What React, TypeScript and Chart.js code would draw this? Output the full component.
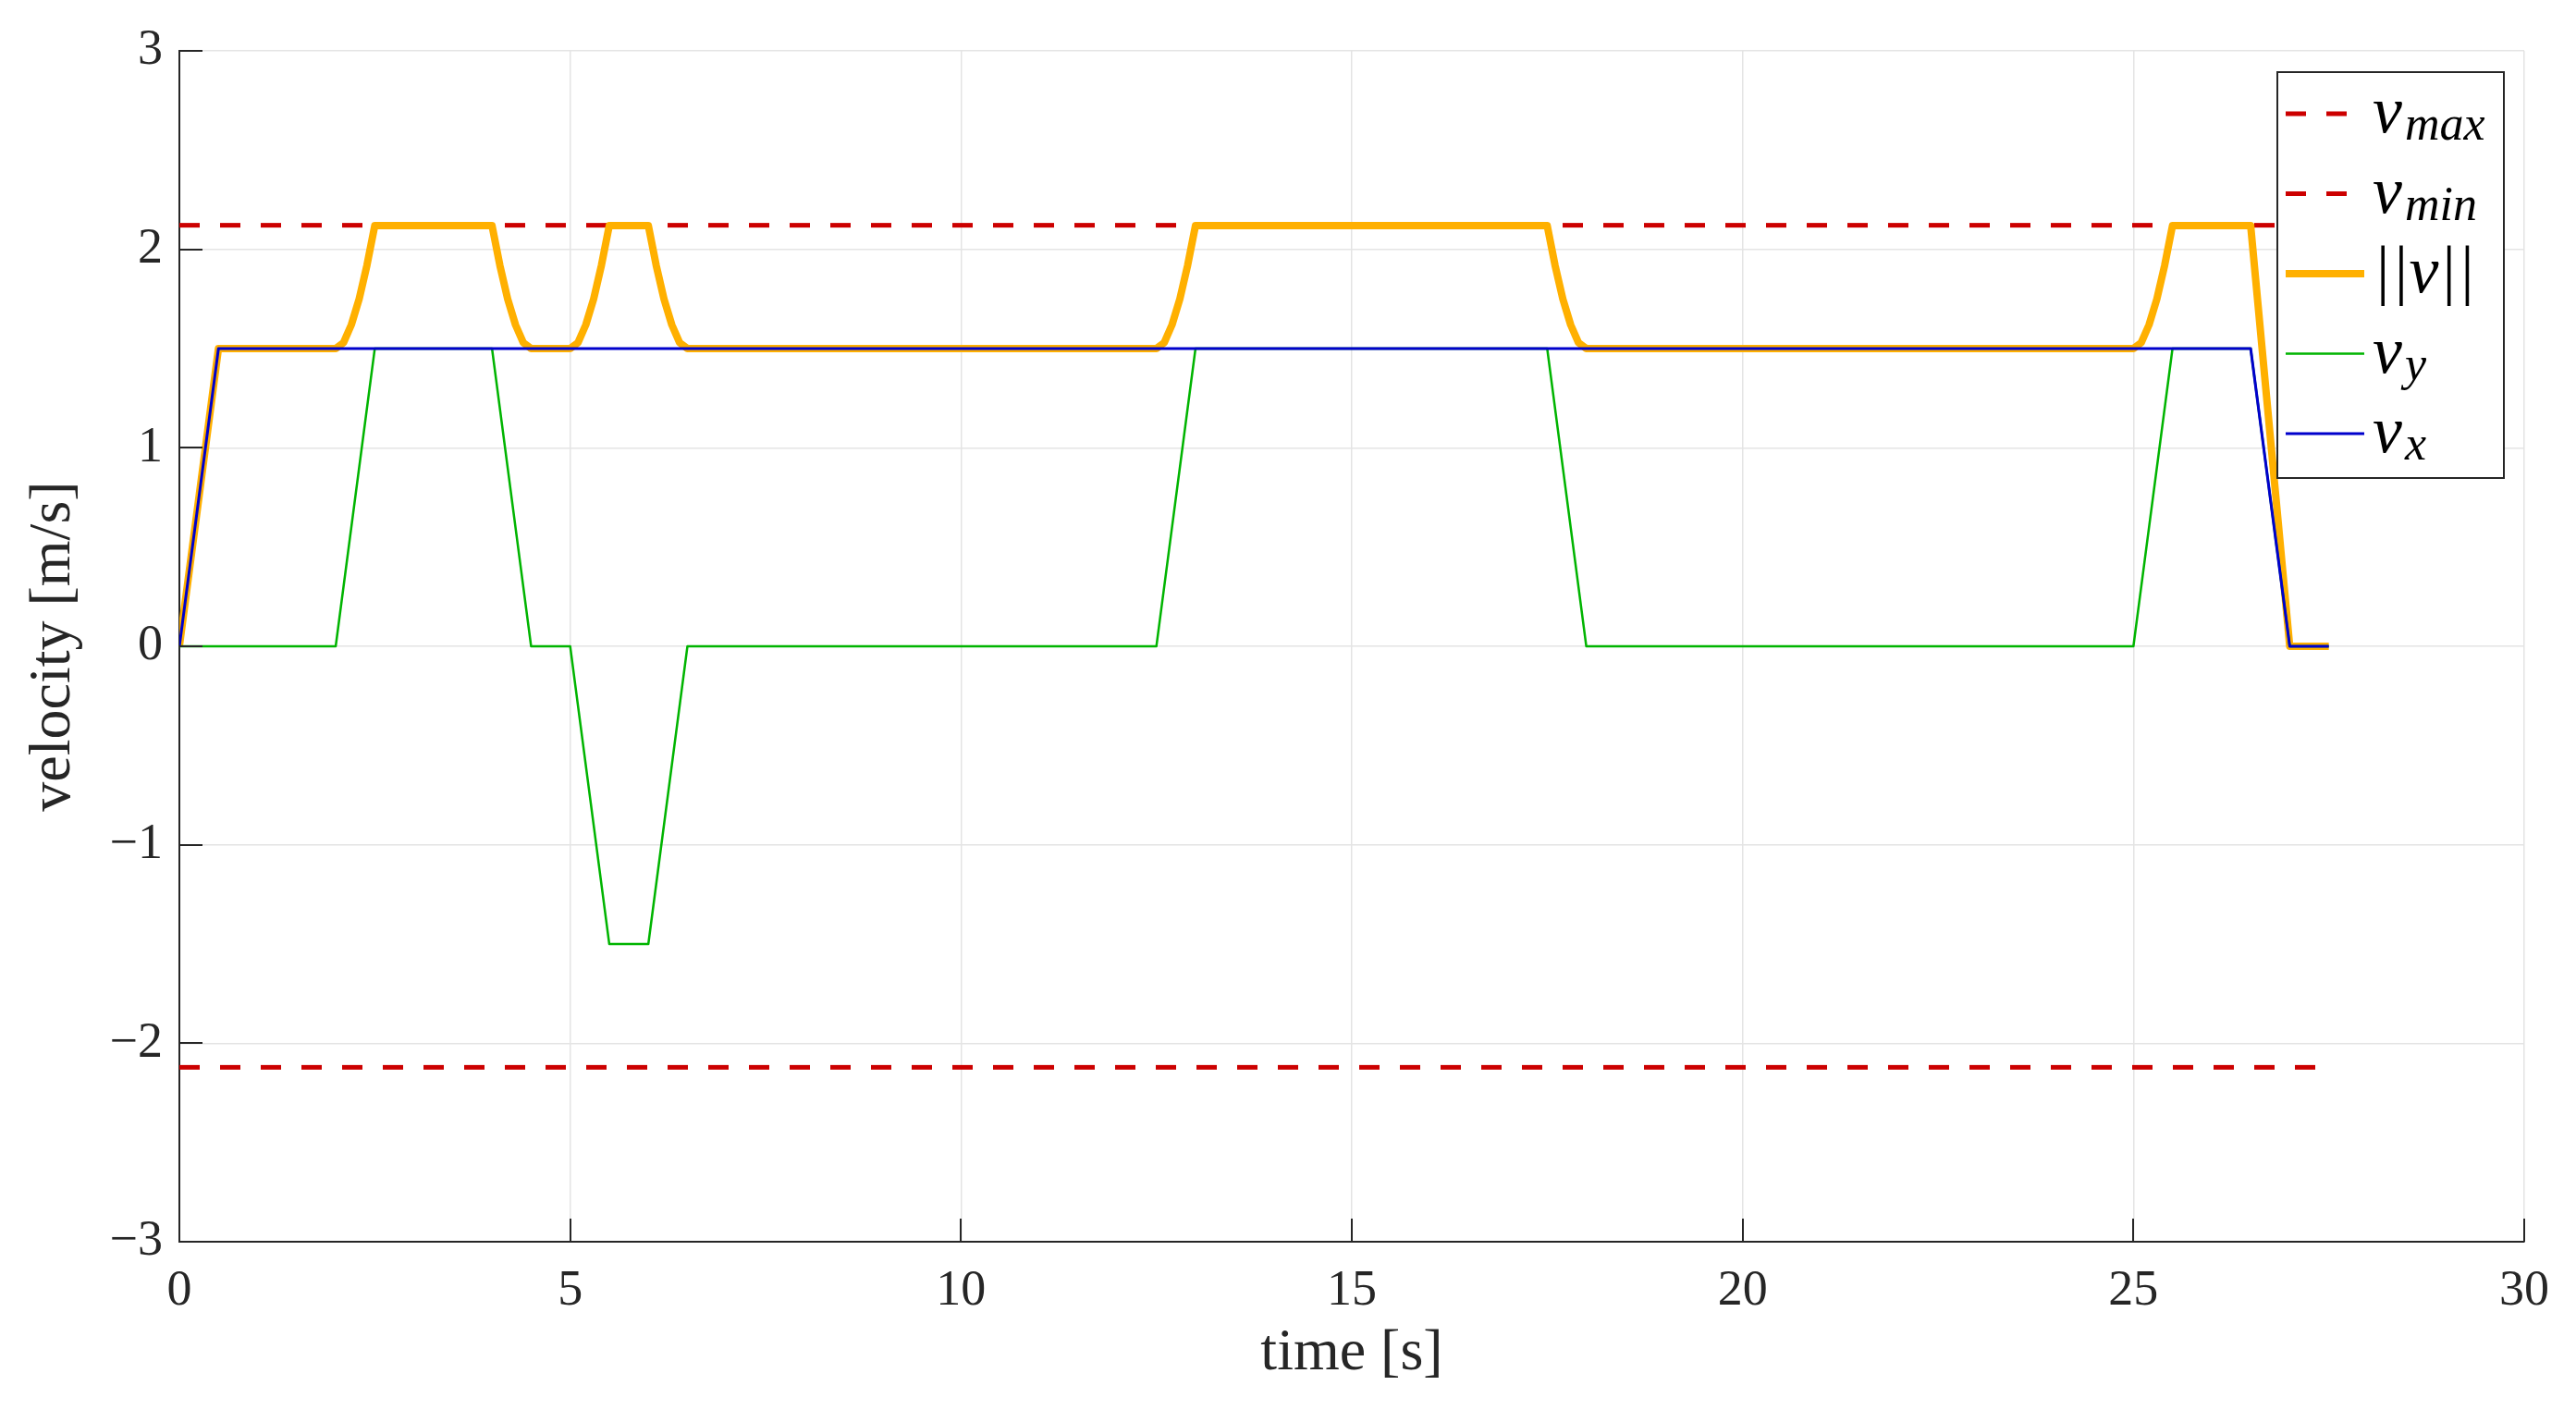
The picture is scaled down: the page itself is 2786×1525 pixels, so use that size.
import React, { useEffect, useRef } from 'react';
import { Chart, registerables } from 'chart.js';

Chart.register(...registerables);

// ---- data ----
const seriesLabels = ['v_max', 'v_min', '||v||', 'v_y', 'v_x'];
const seriesColors = ['#CC0000', '#CC0000', '#FFB000', '#00B400', '#0000CC'];

const vmaxTimes = [0, 27.5];
const vmaxValues = [2.1213, 2.1213];
const vminTimes = [0, 27.5];
const vminValues = [-2.1213, -2.1213];

const normTimes = [
  0, 0.5, 2, 2.1, 2.2, 2.3, 2.4, 2.5, 4, 4.1, 4.2, 4.3, 4.4, 4.5,
  5, 5.1, 5.2, 5.3, 5.4, 5.5, 6, 6.1, 6.2, 6.3, 6.4, 6.5,
  12.5, 12.6, 12.7, 12.8, 12.9, 13, 17.5, 17.6, 17.7, 17.8, 17.9, 18,
  25, 25.1, 25.2, 25.3, 25.4, 25.5, 26.5, 27, 27.5,
];
const normValues = [
  0, 1.5, 1.5, 1.53, 1.62, 1.75, 1.92, 2.12, 2.12, 1.92, 1.75, 1.62, 1.53, 1.5,
  1.5, 1.53, 1.62, 1.75, 1.92, 2.12, 2.12, 1.92, 1.75, 1.62, 1.53, 1.5,
  1.5, 1.53, 1.62, 1.75, 1.92, 2.12, 2.12, 1.92, 1.75, 1.62, 1.53, 1.5,
  1.5, 1.53, 1.62, 1.75, 1.92, 2.12, 2.12, 0, 0,
];

const vyTimes = [0, 2, 2.5, 4, 4.5, 5, 5.5, 6, 6.5, 12.5, 13, 17.5, 18, 25, 25.5, 26.5, 27, 27.5];
const vyValues = [0, 0, 1.5, 1.5, 0, 0, -1.5, -1.5, 0, 0, 1.5, 1.5, 0, 0, 1.5, 1.5, 0, 0];

const vxTimes = [0, 0.5, 26.5, 27, 27.5];
const vxValues = [0, 1.5, 1.5, 0, 0];

const xTickStep = 5;
const yTickStep = 1;

const toPoints = (ts: number[], vs: number[]) => ts.map((t, i) => ({ x: t, y: vs[i] }));

const AXIS = '#262626';
const SERIF = '"Liberation Serif", "Times New Roman", serif';

const inwardTicks = {
  id: 'inwardTicks',
  afterDraw(chart: any) {
    const { ctx, chartArea, scales } = chart;
    ctx.save();
    ctx.strokeStyle = AXIS;
    ctx.lineWidth = 2;
    scales.x.ticks.forEach((t: any) => {
      const px = Math.round(scales.x.getPixelForValue(t.value));
      ctx.beginPath();
      ctx.moveTo(px, chartArea.bottom);
      ctx.lineTo(px, chartArea.bottom - 25);
      ctx.stroke();
    });
    scales.y.ticks.forEach((t: any) => {
      const py = Math.round(scales.y.getPixelForValue(t.value));
      ctx.beginPath();
      ctx.moveTo(chartArea.left, py);
      ctx.lineTo(chartArea.left + 25, py);
      ctx.stroke();
    });
    ctx.restore();
  },
};

const mathLegend = {
  id: 'mathLegend',
  afterDraw(chart: any) {
    const { ctx } = chart;
    const boxL = 2463, boxT = 78, boxR = 2708, boxB = 517;
    ctx.save();
    ctx.fillStyle = '#ffffff';
    ctx.fillRect(boxL, boxT, boxR - boxL, boxB - boxT);
    ctx.strokeStyle = AXIS;
    ctx.lineWidth = 2;
    ctx.strokeRect(boxL, boxT, boxR - boxL, boxB - boxT);
    const rowY0 = 123;
    const rowGap = 86.5;
    chart.data.datasets.forEach((ds: any, i: number) => {
      const y = rowY0 + i * rowGap;
      ctx.save();
      ctx.strokeStyle = ds.borderColor;
      ctx.lineWidth = ds.borderWidth;
      ctx.setLineDash(ds.borderDash || []);
      ctx.lineCap = 'butt';
      ctx.beginPath();
      ctx.moveTo(2472, y);
      ctx.lineTo(2557, y);
      ctx.stroke();
      ctx.restore();
      const label: string = ds.label;
      const parts = label.split('_');
      ctx.fillStyle = '#000000';
      ctx.textBaseline = 'alphabetic';
      ctx.textAlign = 'left';
      ctx.font = `italic 72px ${SERIF}`;
      const x0 = 2566;
      ctx.fillText(parts[0], x0, y + 20);
      if (parts[1]) {
        const w = ctx.measureText(parts[0]).width;
        ctx.font = `italic 52px ${SERIF}`;
        ctx.fillText(parts[1], x0 + w + 3, y + 28);
      }
    });
    ctx.restore();
  },
};

export default function App() {
  const canvasRef = useRef<HTMLCanvasElement | null>(null);

  useEffect(() => {
    if (!canvasRef.current) return;
    const series = [
      { pts: toPoints(vmaxTimes, vmaxValues), width: 5, dash: [22, 22], order: 4 },
      { pts: toPoints(vminTimes, vminValues), width: 5, dash: [22, 22], order: 3 },
      { pts: toPoints(normTimes, normValues), width: 8, dash: [], order: 2 },
      { pts: toPoints(vyTimes, vyValues), width: 2.5, dash: [], order: 1 },
      { pts: toPoints(vxTimes, vxValues), width: 3, dash: [], order: 0 },
    ];
    const chart = new Chart(canvasRef.current, {
      type: 'line',
      data: {
        datasets: series.map((s, i) => ({
          label: seriesLabels[i],
          data: s.pts,
          borderColor: seriesColors[i],
          backgroundColor: seriesColors[i],
          borderWidth: s.width,
          borderDash: s.dash,
          pointRadius: 0,
          pointHoverRadius: 0,
          tension: 0,
          fill: false,
          order: s.order,
          borderJoinStyle: 'round' as const,
        })),
      },
      options: {
        animation: false,
        responsive: true,
        maintainAspectRatio: false,
        layout: { padding: { top: 55, right: 56, left: 0, bottom: 0 } },
        plugins: { legend: { display: false }, tooltip: { enabled: false } },
        scales: {
          x: {
            type: 'linear',
            min: 0,
            max: 30,
            ticks: {
              stepSize: xTickStep,
              color: AXIS,
              padding: 21,
              font: { family: SERIF, size: 54 },
              maxRotation: 0,
            },
            grid: { color: '#e4e4e4', lineWidth: 1.5, drawTicks: false },
            border: { display: true, color: AXIS, width: 2 },
            title: {
              display: true,
              text: 'time [s]',
              color: AXIS,
              font: { family: SERIF, size: 64 },
              padding: { top: 0, bottom: 22 },
            },
            afterFit: (scale: any) => {
              scale.height = 182;
            },
          },
          y: {
            type: 'linear',
            min: -3,
            max: 3,
            ticks: {
              stepSize: yTickStep,
              color: AXIS,
              padding: 18,
              font: { family: SERIF, size: 54 },
              callback: (v: any) => String(v).replace('-', '\u2212'),
            },
            grid: { color: '#e4e4e4', lineWidth: 1.5, drawTicks: false },
            border: { display: true, color: AXIS, width: 2 },
            title: {
              display: true,
              text: 'velocity [m/s]',
              color: AXIS,
              font: { family: SERIF, size: 64 },
              padding: { top: 20, bottom: 0 },
            },
            afterFit: (scale: any) => {
              scale.width = 194;
            },
          },
        },
      },
      plugins: [inwardTicks, mathLegend],
    });
    return () => chart.destroy();
  }, []);

  return (
    <div style={{ position: 'fixed', left: 0, top: 0, width: '2786px', height: '1525px', background: '#fff' }}>
      <canvas ref={canvasRef} />
    </div>
  );
}
